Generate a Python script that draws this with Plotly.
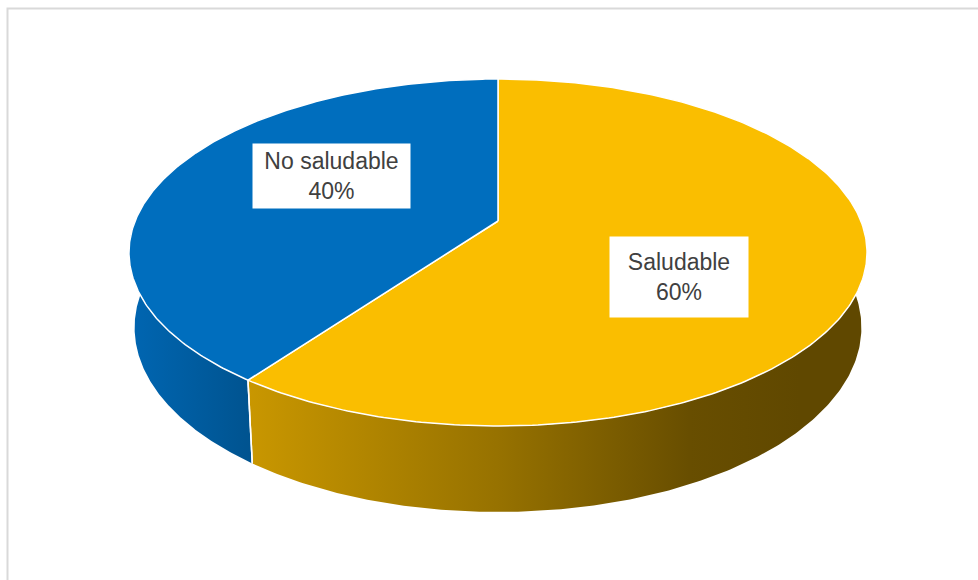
import numpy as np
import plotly.graph_objects as go

# Data
categories = ["Saludable", "No saludable"]
values = [60, 40]

# Styles
top_colors = ["#FABE00", "#006EBE"]
side_scales = [
    [[0, "#C99700"], [0.45, "#977200"], [0.8, "#684E00"], [1, "#604800"]],
    [[0, "#0066B2"], [1, "#00538F"]],
]
label_pos = [(679, 277), (331.5, 175.5)]
label_box = [(138, 80), (157, 64)]

# Perspective projection of a unit cylinder (top face h=0, bottom h=1)
CX, CY = 498.0, 221.0
A, B, D = 362.9, 167.8, 74.7
K, M = 0.1816, 0.015


def project(theta_deg, h, r=1.0):
    t = np.radians(theta_deg)
    X, Y = r * np.sin(t), r * np.cos(t)
    w = 1 + K * Y + M * h
    return CX + A * X / w, CY + (-B * Y + D * h) / w


total = float(sum(values))
starts = np.cumsum([0] + values[:-1]) / total * 360.0
ends = np.cumsum(values) / total * 360.0

fig = go.Figure()

# Side walls (only the front half can be seen)
for i, (a0, a1) in enumerate(zip(starts, ends)):
    s0, s1 = max(a0, 90.0), min(a1, 270.0)
    if s1 <= s0:
        continue
    th = np.linspace(s0, s1, 200)
    xt, yt = project(th, 0)
    xb, yb = project(th[::-1], 1)
    xs = np.concatenate([xt, xb, xt[:1]])
    ys = np.concatenate([yt, yb, yt[:1]])
    fig.add_trace(go.Scatter(
        x=xs, y=ys, mode="lines", fill="toself",
        line=dict(width=0, color="rgba(0,0,0,0)"),
        fillgradient=dict(type="horizontal", colorscale=side_scales[i],
                          start=float(xs.min()), stop=float(min(xs.max(), 800))),
        hoverinfo="skip", showlegend=False))

# Top faces
for i, (a0, a1) in enumerate(zip(starts, ends)):
    th = np.linspace(a0, a1, 300)
    xt, yt = project(th, 0)
    xs = np.concatenate([[CX], xt, [CX]])
    ys = np.concatenate([[CY], yt, [CY]])
    fig.add_trace(go.Scatter(
        x=xs, y=ys, mode="lines", fill="toself", fillcolor=top_colors[i],
        line=dict(width=1.5, color="white"),
        hoverinfo="skip", showlegend=False))

# Slice seams running down the visible wall
for a in list(starts) + list(ends):
    a = a % 360
    if 90 < a < 270:
        x0, y0 = project(a, 0)
        x1, y1 = project(a, 1)
        fig.add_trace(go.Scatter(
            x=[x0, x1], y=[y0, y1], mode="lines",
            line=dict(width=1.5, color="white"),
            hoverinfo="skip", showlegend=False))

# Data labels
for i, (cat, val) in enumerate(zip(categories, values)):
    pct = round(val / total * 100)
    bw, bh = label_box[i]
    fig.add_annotation(
        x=label_pos[i][0], y=label_pos[i][1], xref="x", yref="y",
        text=f"{cat}<br>{pct}%", showarrow=False,
        font=dict(family="Liberation Sans, Arial, sans-serif", size=23, color="#404040"),
        bgcolor="white", width=bw, height=bh, borderpad=0, align="center")

# Chart area border
fig.add_shape(type="rect", xref="paper", yref="paper",
              x0=7.5 / 978, y0=1 - 8.5 / 580, x1=1.05, y1=-0.05,
              line=dict(color="#D9D9D9", width=2), layer="above")

fig.update_layout(
    width=978, height=580,
    margin=dict(l=0, r=0, t=0, b=0),
    paper_bgcolor="white", plot_bgcolor="white",
    xaxis=dict(range=[0, 978], visible=False, fixedrange=True),
    yaxis=dict(range=[580, 0], visible=False, fixedrange=True),
    showlegend=False,
)

fig.write_html("out.html")
